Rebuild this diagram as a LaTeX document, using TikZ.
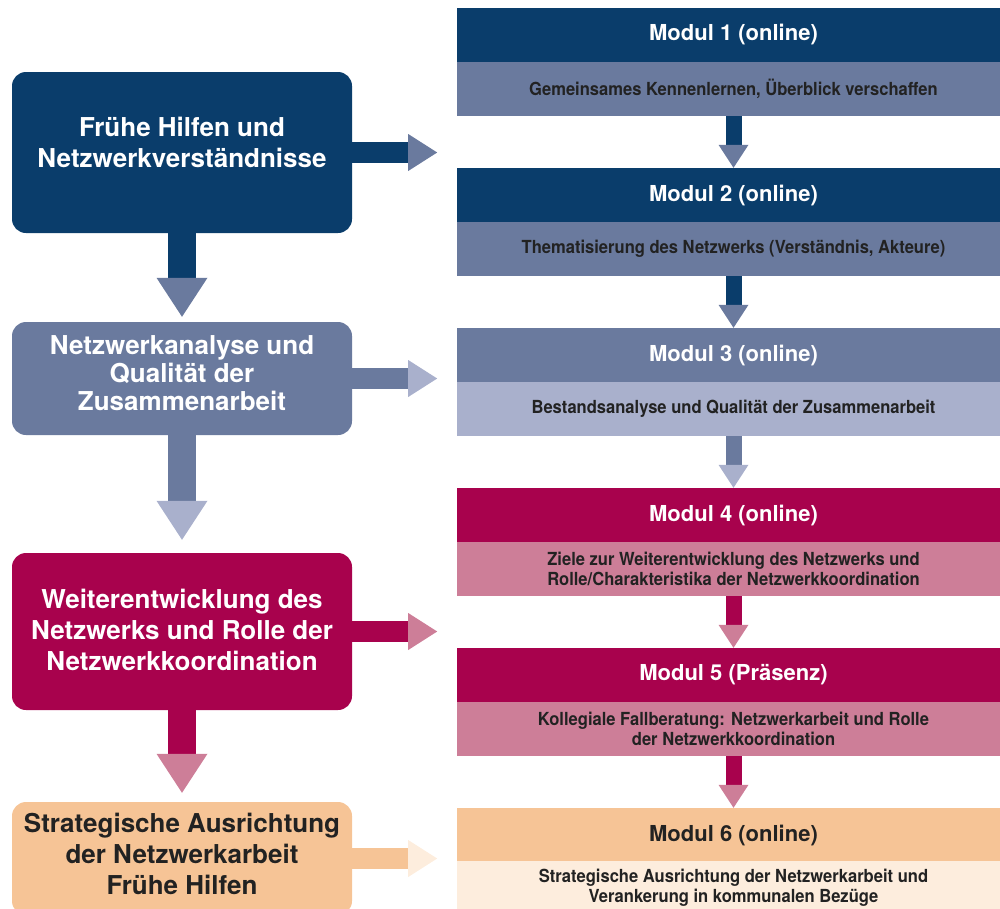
\documentclass[tikz,border=0pt]{standalone}
\usepackage{fontspec}
\setmainfont{TeX Gyre Heros}
\newfontfamily\condfont[FakeStretch=0.92]{TeX Gyre Heros}
\usetikzlibrary{calc}
\definecolor{navy}{HTML}{0A3D6B}
\definecolor{slate}{HTML}{6A7A9E}
\definecolor{lavender}{HTML}{A9B0CC}
\definecolor{crimson}{HTML}{A8024D}
\definecolor{pinkish}{HTML}{CD7E98}
\definecolor{peach}{HTML}{F6C496}
\definecolor{lightpeach}{HTML}{FDEDDD}
\definecolor{darktext}{HTML}{222222}
\tikzset{
  leftbox/.style={rounded corners=14pt, minimum width=340pt, inner sep=0pt, draw=none},
  lefttext/.style={font=\bfseries\fontsize{26}{31}\selectfont, align=center, text=white, inner sep=0pt},
  modhead/.style={minimum width=553pt, minimum height=54pt, inner sep=0pt, draw=none,
    font=\bfseries\fontsize{22}{26}\selectfont, text=white},
  modbody/.style={minimum width=553pt, minimum height=54pt, inner sep=0pt, draw=none,
    font=\condfont\bfseries\fontsize{18}{20}\selectfont, align=center, text=darktext},
}
% horizontal arrow from a left box
\newcommand{\rightarr}[3]{%
  \fill[#2] ($(#1.east)+(-0.5,-10.5)$) rectangle ($(#1.east)+(57,10.5)$);
  \fill[#3] ($(#1.east)+(56,-18.5)$) -- ($(#1.east)+(85,0)$) -- ($(#1.east)+(56,18.5)$) -- cycle;}
% vertical arrow between left boxes: from, to, stem colour, tip colour, gap
\newcommand{\leftdown}[5]{%
  \coordinate (tipA) at ($(#2.north)+(0,-#5)$);
  \fill[#3] ($(#1.south)+(-14,-0.5)$) rectangle ($(tipA)+(14,-38)$);
  \fill[#4] ($(tipA)+(-25.5,-39)$) -- (tipA) -- ($(tipA)+(25.5,-39)$) -- cycle;}
% vertical arrow between modules
\newcommand{\rightdown}[4]{%
  \fill[#3] ($(#1.south)+(-8,-0.5)$) rectangle ($(#2.north)+(8,-22)$);
  \fill[#4] ($(#2.north)+(-15,-23)$) -- (#2.north) -- ($(#2.north)+(15,-23)$) -- cycle;}
\begin{document}
\begin{tikzpicture}[x=1pt,y=-1pt]
\useasboundingbox (0,0) rectangle (1000,908);
\clip (0,0) rectangle (1000,908);

% left boxes
\node[leftbox, fill=navy, minimum height=161pt] (b1) at (182,152.5) {};
\node[leftbox, fill=slate, minimum height=113pt] (b2) at (182,378.5) {};
\node[leftbox, fill=crimson, minimum height=157pt] (b3) at (182,631.5) {};
\node[leftbox, fill=peach, minimum height=113pt] (b4) at (182,858.5) {};

\node[lefttext] (t1) at (182,142) {Frühe Hilfen und\\Netzwerkverständnisse};
\node[lefttext, font=\bfseries\fontsize{26}{28}\selectfont] (t2) at (182,373) {Netzwerkanalyse und\\Qualität der\\Zusammenarbeit};
\node[lefttext] (t3) at (182,630) {Weiterentwicklung des\\Netzwerks und Rolle der\\Netzwerkkoordination};
\node[lefttext, text=darktext] (t4) at (182,854) {Strategische Ausrichtung\\der Netzwerkarbeit\\Frühe Hilfen};

% modules
\node[modhead, fill=navy] (h1) at (733.5,35) {Modul 1 (online)};
\node[modbody, fill=slate] (m1) at (733.5,89) {Gemeinsames Kennenlernen, Überblick verschaffen};
\node[modhead, fill=navy] (h2) at (733.5,195) {Modul 2 (online)};
\node[modbody, fill=slate] (m2) at (733.5,249) {Thematisierung des Netzwerks (Verständnis, Akteure)};
\node[modhead, fill=slate] (h3) at (733.5,355) {Modul 3 (online)};
\node[modbody, fill=lavender] (m3) at (733.5,409) {Bestandsanalyse und Qualität der Zusammenarbeit};
\node[modhead, fill=crimson] (h4) at (733.5,515) {Modul 4 (online)};
\node[modbody, fill=pinkish] (m4) at (733.5,569) {Ziele zur Weiterentwicklung des Netzwerks und\\Rolle/Charakteristika der Netzwerkkoordination};
\node[modhead, fill=crimson] (h5) at (733.5,675) {Modul 5 (Präsenz)};
\node[modbody, fill=pinkish] (m5) at (733.5,729) {Kollegiale Fallberatung: Netzwerkarbeit und Rolle\\der Netzwerkkoordination};
\node[modhead, fill=peach, text=darktext] (h6) at (733.5,835) {Modul 6 (online)};
\node[modbody, fill=lightpeach] (m6) at (733.5,888) {Strategische Ausrichtung der Netzwerkarbeit und\\Verankerung in kommunalen Bezüge};

% arrows left column
\leftdown{b1}{b2}{navy}{slate}{5}
\leftdown{b2}{b3}{slate}{lavender}{13}
\leftdown{b3}{b4}{crimson}{pinkish}{9}

% arrows to the right
\rightarr{b1}{navy}{slate}
\rightarr{b2}{slate}{lavender}
\rightarr{b3}{crimson}{pinkish}
\rightarr{b4}{peach}{lightpeach}

% arrows right column
\rightdown{m1}{h2}{navy}{slate}
\rightdown{m2}{h3}{navy}{slate}
\rightdown{m3}{h4}{slate}{lavender}
\rightdown{m4}{h5}{crimson}{pinkish}
\rightdown{m5}{h6}{crimson}{pinkish}
\end{tikzpicture}
\end{document}
